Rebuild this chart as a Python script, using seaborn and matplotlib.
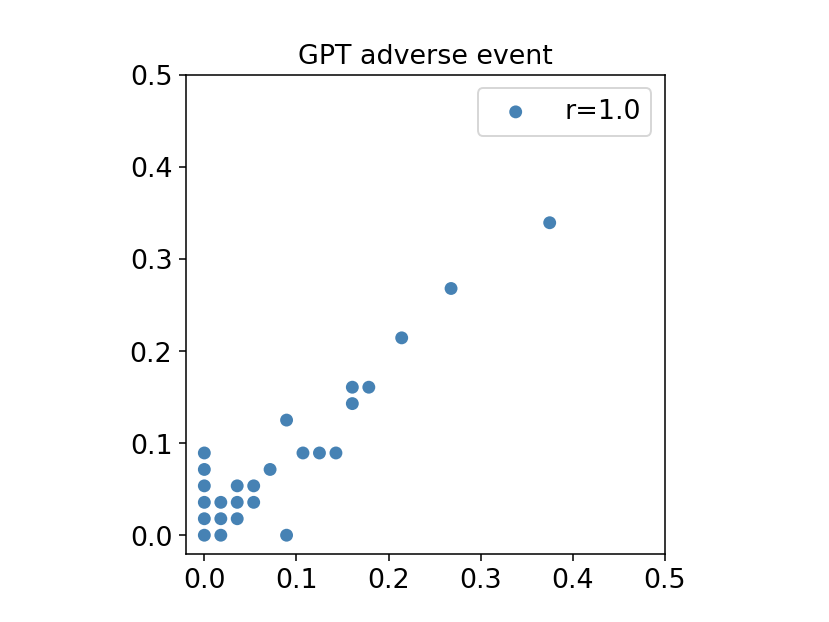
import pandas as pd
import seaborn as sns
import matplotlib.pyplot as plt

# points (fractions, step ~1/56)
x_vals = [0.0, 0.0, 0.0, 0.0, 0.0, 0.0,
          0.0179, 0.0179, 0.0179,
          0.0357, 0.0357, 0.0357,
          0.0536, 0.0536,
          0.0714,
          0.0893, 0.0893,
          0.1071, 0.125, 0.1429,
          0.1607, 0.1607, 0.1786,
          0.2143, 0.2679, 0.375]
y_vals = [0.0, 0.0179, 0.0357, 0.0536, 0.0714, 0.0893,
          0.0, 0.0179, 0.0357,
          0.0179, 0.0357, 0.0536,
          0.0357, 0.0536,
          0.0714,
          0.125, 0.0,
          0.0893, 0.0893, 0.0893,
          0.1607, 0.1429, 0.1607,
          0.2143, 0.2679, 0.3393]
label = "r=1.0"
ticks = [0.0, 0.1, 0.2, 0.3, 0.4, 0.5]

df = pd.DataFrame({"x": x_vals, "y": y_vals})

fig, ax = plt.subplots(figsize=(6, 4.5), dpi=138.33)
plt.subplots_adjust(left=0.224, right=0.801, bottom=0.109, top=0.880)

sns.scatterplot(data=df, x="x", y="y", ax=ax, color="steelblue",
                s=45, edgecolor="none", label=label)

ax.set_xlim(-0.02, 0.5)
ax.set_ylim(-0.02, 0.5)
ax.set_aspect("equal")
ax.set_xticks(ticks)
ax.set_yticks(ticks)
ax.tick_params(labelsize=14)
ax.set_xlabel("")
ax.set_ylabel("")
ax.set_title("GPT adverse event", fontsize=14)
ax.legend(loc="upper right", fontsize=14)

plt.savefig("out.png", dpi=138.33)
